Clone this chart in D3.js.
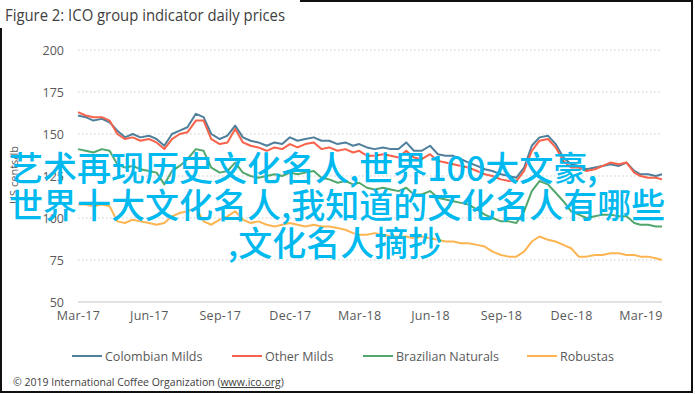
<!DOCTYPE html>
<html><head><meta charset="utf-8">
<script src="https://cdn.jsdelivr.net/npm/d3@7"></script>
<style>
html,body{margin:0;padding:0;background:#fff;}
svg{display:block;}
</style></head>
<body>
<svg id="chart" width="695" height="394"></svg>
<script>
// ---- data ----
const seriesNames = ["Colombian Milds", "Other Milds", "Brazilian Naturals", "Robustas"];
const seriesColors = ["#4f7f9b", "#f8624a", "#52a86c", "#fdb552"];
const yTicks = [50, 75, 100, 125, 150, 175, 200];
const xTickLabels = ["Mar-17","Jun-17","Sep-17","Dec-17","Mar-18","Jun-18","Sep-18","Dec-18","Mar-19"];
const xTickDates = ["2017-03-01","2017-06-01","2017-09-01","2017-12-01","2018-03-01","2018-06-01","2018-09-01","2018-12-01","2019-03-01"];

// observation dates: 1st, 11th, 21st of each month, Mar 2017 .. Mar 2019, plus 29 Mar 2019
const obsDates = [];
for (let m = 0; m < 25; m++) {
  for (const d of [1, 11, 21]) obsDates.push(new Date(2017, 2 + m, d));
}
obsDates.push(new Date(2019, 2, 29));

const colombianMilds = [161,160,158,159,157,152,148,150,148,149,147,143,150,152,154,162,160,150,147,149,
  155,148,146,145,143,145,144,148,146,147,148,146,146,144,145,143,144,142,141,142,
  141,141,145,140,140,143,138,137,137,135,133,131,129,128,126,125,124,130,143,148,
  149,144,136,132,131,129,130,131,132,131,133,128,126,126,125,126];
const otherMilds = [163,161,160,160,158,150,147,148,146,147,145,141,147,150,151,158,158,147,144,145,
  153,145,143,142,140,142,141,144,142,144,145,141,142,140,141,139,140,137,137,138,
  137,136,140,136,135,138,134,133,132,131,130,128,126,125,123,122,122,128,140,146,
  147,142,134,130,130,128,129,131,133,132,133,127,125,124,124,123];
const brazilianNaturals = [141,140,139,141,140,132,130,131,129,128,127,120,128,131,135,141,140,130,127,128,
  133,127,125,124,125,126,125,127,126,127,128,124,123,121,122,120,121,118,117,118,
  117,116,118,114,114,116,112,111,110,109,108,105,102,100,98,98,97,104,116,122,
  120,115,110,104,102,100,101,102,102,101,101,97,96,96,95,95];
const robustas = [108,108,107,108,107,98,97,99,98,97,96,97,101,103,104,106,98,96,99,101,
  104,99,97,98,96,95,96,97,96,95,96,95,95,94,93,91,90,90,91,90,
  89,89,89,88,89,88,87,86,86,85,85,84,83,80,78,77,77,80,86,89,
  87,86,84,82,77,77,78,78,79,79,78,78,77,77,76,75];
const seriesValues = [colombianMilds, otherMilds, brazilianNaturals, robustas];

const titleText = "Figure 2: ICO group indicator daily prices";
const yAxisTitle = "US cents/lb";
const footerText = "© 2019 International Coffee Organization (";
const footerLink = "www.ico.org";
const overlayLines = ["艺术再现历史文化名人,世界100大文豪,", "世界十大文化名人,我知道的文化名人有哪些", ",文化名人摘抄"];

// ---- drawing ----
const svg = d3.select("#chart");
const font = "'Open Sans', 'Liberation Sans', sans-serif";
const textCol = "#595959";

const x = d3.scaleTime()
  .domain([new Date(2017, 2, 1), new Date(2019, 2, 29)])
  .range([78, 662]);
const y = d3.scaleLinear().domain([50, 200]).range([302, 50]);

// frame
const frame = svg.append("g").attr("stroke", "#111").attr("stroke-width", 2).attr("fill", "none");
frame.append("path").attr("d", d3.line()([[1, 28], [1, 392], [692, 392], [692, 1], [300, 1]]));

// title
svg.append("text").attr("x", 5).attr("y", 21)
  .attr("font-family", font).attr("font-size", 16).attr("fill", "#404040")
  .attr("textLength", 280).attr("lengthAdjust", "spacingAndGlyphs")
  .text(titleText);

// gridlines
const grid = svg.append("g");
grid.selectAll("line").data(yTicks).join("line")
  .attr("x1", x.range()[0]).attr("x2", x.range()[1])
  .attr("y1", d => y(d)).attr("y2", d => y(d))
  .attr("stroke", d => d === 50 ? "#d9d9d9" : "#c9c9c9")
  .attr("stroke-width", d => d === 50 ? 1.5 : 1)
  .attr("stroke-dasharray", d => d === 50 ? null : "1.5,2.5");

// y axis labels
const yAxis = d3.axisLeft(y).tickValues(yTicks).tickSize(0).tickPadding(0);
const gy = svg.append("g").attr("transform", "translate(64,0)").call(yAxis);
gy.select(".domain").remove();
gy.selectAll("text").attr("font-family", font).attr("font-size", 12.5).attr("fill", textCol);

// y axis title
svg.append("text").attr("transform", "translate(18,175) rotate(-90)")
  .attr("text-anchor", "middle").attr("font-family", font).attr("font-size", 11).attr("fill", textCol)
  .text(yAxisTitle);

// x axis labels
const xAxis = d3.axisBottom(x).tickValues(xTickDates.map(d => d3.timeParse("%Y-%m-%d")(d)))
  .tickFormat((d, i) => xTickLabels[i]).tickSize(0).tickPadding(0);
const gx = svg.append("g").attr("transform", "translate(0,311)").call(xAxis);
gx.select(".domain").remove();
gx.selectAll("text").attr("font-family", font).attr("font-size", 12.5).attr("fill", textCol)
  .attr("letter-spacing", 0.3);

// series lines
const line = d3.line().x((d, i) => x(obsDates[i])).y(d => y(d)).curve(d3.curveLinear);
svg.append("g").selectAll("path").data(seriesValues).join("path")
  .attr("d", d => line(d))
  .attr("fill", "none")
  .attr("stroke", (d, i) => seriesColors[i])
  .attr("stroke-width", 2)
  .attr("stroke-linejoin", "round");

// legend
const legendX = [72, 232, 363, 527];
const lg = svg.append("g").selectAll("g").data(seriesNames).join("g")
  .attr("transform", (d, i) => `translate(${legendX[i]},356)`);
lg.append("line").attr("x1", 0).attr("x2", 30).attr("y1", 0).attr("y2", 0)
  .attr("stroke", (d, i) => seriesColors[i]).attr("stroke-width", 2);
lg.append("text").attr("x", 33).attr("y", 4.5)
  .attr("font-family", font).attr("font-size", 12.5).attr("fill", textCol)
  .text(d => d);

// footer
const ft = svg.append("text").attr("x", 13).attr("y", 386)
  .attr("font-family", font).attr("font-size", 10.5).attr("fill", "#404040");
ft.append("tspan").text(footerText);
ft.append("tspan").attr("text-decoration", "underline").text(footerLink);
ft.append("tspan").text(")");

// overlay text
svg.append("g").selectAll("text").data(overlayLines).join("text")
  .attr("x", (d, i) => i === 2 ? 228 : 9)
  .attr("y", (d, i) => [181, 218, 256][i])
  .attr("font-family", "'Noto Sans CJK SC', sans-serif")
  .attr("font-size", 34)
  .attr("font-weight", 500)
  .attr("fill", "#00b9ef")
  .text(d => d);
</script>
</body></html>
